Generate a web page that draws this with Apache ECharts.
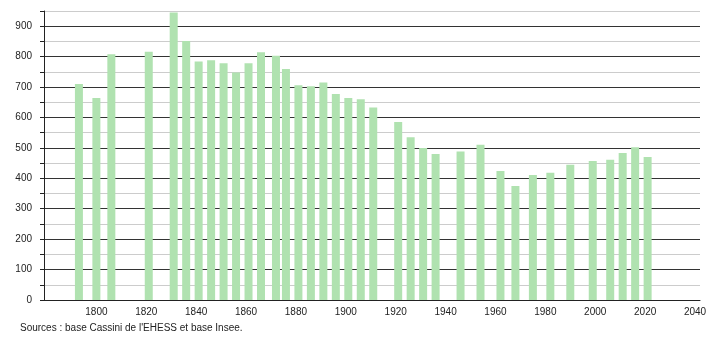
<!DOCTYPE html>
<html>
<head>
<meta charset="utf-8">
<script src="https://cdn.jsdelivr.net/npm/echarts@6/dist/echarts.min.js"></script>
<style>
html,body{margin:0;padding:0;background:#fff;}
#chart{width:710px;height:340px;}
</style>
</head>
<body>
<div id="chart"></div>
<script>
const years = [1793,1800,1806,1821,1831,1836,1841,1846,1851,1856,1861,1866,1872,1876,1881,1886,1891,1896,1901,1906,1911,1921,1926,1931,1936,1946,1954,1962,1968,1975,1982,1990,1999,2006,2011,2016,2021];
const population = [710,664,808,816,945,851,784,788,778,748,778,814,803,759,706,703,715,677,664,660,633,585,535,500,480,488,510,424,375,411,418,445,457,461,483,502,470];
const xTickLabels = [1800,1820,1840,1860,1880,1900,1920,1940,1960,1980,2000,2020,2040];
const yTickLabels = [0,100,200,300,400,500,600,700,800,900];
const sourceText = "Sources : base Cassini de l'EHESS et base Insee.";

const chart = echarts.init(document.getElementById('chart'), null, {renderer:'canvas'});
chart.setOption({
  animation:false,
  backgroundColor:'#fff',
  grid:{left:44,right:10,top:11,bottom:40},
  xAxis:{
    type:'value', min:1779, max:2042,
    axisLine:{show:true,lineStyle:{color:'#222',width:1}},
    axisTick:{show:false},
    splitLine:{show:false},
    axisLabel:{customValues:xTickLabels,color:'#222',fontFamily:'Liberation Sans, Arial, sans-serif',fontSize:10,margin:7,
      formatter:function(v){return String(v);}}
  },
  yAxis:{
    type:'value', min:0, max:950, interval:50,
    axisLine:{show:true,lineStyle:{color:'#222',width:1}},
    axisTick:{show:true,length:4,lineStyle:{color:'#222'}},
    splitLine:{show:true,lineStyle:{color:['#333','#cccccc'],width:1}},
    axisLabel:{color:'#222',fontFamily:'Liberation Sans, Arial, sans-serif',fontSize:10,margin:12,
      formatter:function(v){return yTickLabels.indexOf(v)>=0?String(v):'';}}
  },
  graphic:[{type:'text',left:20,top:323,style:{text:sourceText,fill:'#222',font:'10px "Liberation Sans", Arial, sans-serif'}}],
  series:[{
    type:'bar',
    data:years.map((y,i)=>[y,population[i]]),
    barWidth:8,
    itemStyle:{color:'#b0e2b0'},
    z:3
  }]
});
</script>
</body>
</html>
